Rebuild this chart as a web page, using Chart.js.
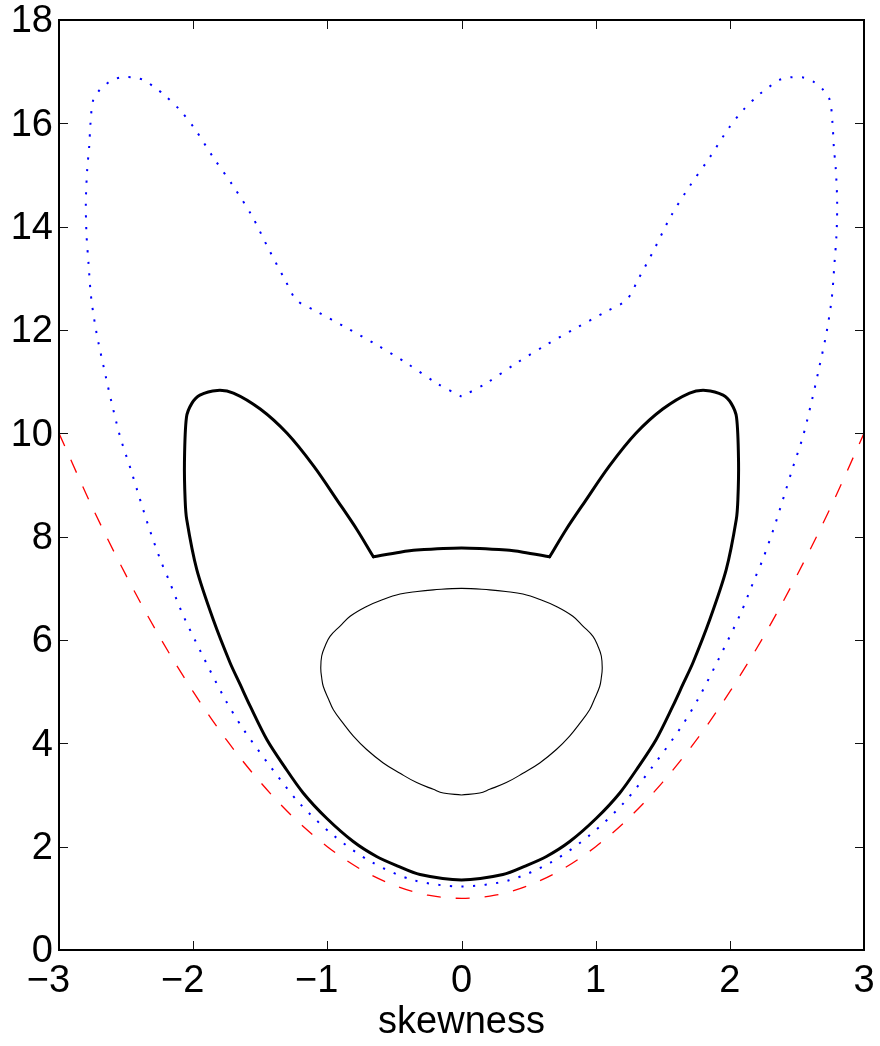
<!DOCTYPE html>
<html>
<head>
<meta charset="utf-8">
<script src="https://cdn.jsdelivr.net/npm/chart.js@4.4.1/dist/chart.umd.min.js"></script>
<style>
  body { margin: 0; background: #fff; }
  #wrap { width: 880px; height: 1046px; }
</style>
</head>
<body>
<div id="wrap"><canvas id="chart"></canvas></div>
<script>
const xTicks = [-3, -2, -1, 0, 1, 2, 3];
const yTicks = [0, 2, 4, 6, 8, 10, 12, 14, 16, 18];
const xTitle = "skewness";

// lower bound (red dashed)
const redX = [-3, -2.75, -2.5, -2.25, -2, -1.75, -1.5, -1.25, -1, -0.75, -0.5, -0.25, 0,
  0.25, 0.5, 0.75, 1, 1.25, 1.5, 1.75, 2, 2.25, 2.5, 2.75, 3];
const redY = [10, 8.56, 7.25, 6.06, 5, 4.06, 3.25, 2.56, 2, 1.56, 1.25, 1.06, 1,
  1.06, 1.25, 1.56, 2, 2.56, 3.25, 4.06, 5, 6.06, 7.25, 8.56, 10];

// blue dotted contour, starts and ends at the top notch
const blueX = [0, -0.185, -0.41, -0.63, -0.855, -1.08, -1.23, -1.315, -1.44, -1.56,
  -1.70, -1.85, -1.99, -2.10, -2.22, -2.29, -2.37, -2.45, -2.54, -2.62,
  -2.695, -2.745, -2.765, -2.775, -2.79, -2.80, -2.795, -2.78, -2.76, -2.72,
  -2.665, -2.61, -2.545, -2.465, -2.415, -2.334, -2.247, -2.178, -2.08, -1.928,
  -1.768, -1.633, -1.427, -1.211, -0.955, -0.669, -0.355, 0,
  0.355, 0.669, 0.955, 1.211, 1.427, 1.633, 1.768, 1.928, 2.08, 2.178,
  2.247, 2.334, 2.415, 2.465, 2.545, 2.61, 2.665, 2.72, 2.76, 2.78,
  2.795, 2.80, 2.79, 2.775, 2.765, 2.745, 2.695, 2.62, 2.54, 2.45,
  2.37, 2.29, 2.22, 2.10, 1.99, 1.85, 1.70, 1.56, 1.44, 1.315,
  1.23, 1.08, 0.855, 0.63, 0.41, 0.185, 0];
const blueY = [10.71, 10.97, 11.36, 11.71, 12.04, 12.36, 12.58, 12.97, 13.58, 14.20,
  14.78, 15.34, 15.90, 16.26, 16.56, 16.70, 16.84, 16.89, 16.89, 16.81,
  16.65, 16.45, 16.01, 15.55, 15.10, 14.46, 13.85, 13.29, 12.62, 11.94,
  11.26, 10.62, 9.94, 9.30, 8.88, 8.21, 7.57, 7.14, 6.51, 5.69,
  4.88, 4.30, 3.56, 2.85, 2.22, 1.70, 1.35, 1.23,
  1.35, 1.70, 2.22, 2.85, 3.56, 4.30, 4.88, 5.69, 6.51, 7.14,
  7.57, 8.21, 8.88, 9.30, 9.94, 10.62, 11.26, 11.94, 12.62, 13.29,
  13.85, 14.46, 15.10, 15.55, 16.01, 16.45, 16.65, 16.81, 16.89, 16.89,
  16.84, 16.70, 16.56, 16.26, 15.90, 15.34, 14.78, 14.20, 13.58, 12.97,
  12.58, 12.36, 12.04, 11.71, 11.36, 10.97, 10.71];

// thin inner contour, starts and ends at the bottom cusp
const innerX = [0, -0.136, -0.21, -0.334, -0.458, -0.583, -0.707, -0.806, -0.88, -0.955,
  -0.99, -1.03, -1.042, -1.049, -1.042, -1.017, -0.98, -0.905, -0.83, -0.707,
  -0.59, -0.458, -0.33, -0.21, 0,
  0.21, 0.33, 0.458, 0.59, 0.707, 0.83, 0.905, 0.98, 1.017, 1.042,
  1.049, 1.042, 1.03, 0.99, 0.955, 0.88, 0.806, 0.707, 0.583, 0.458,
  0.334, 0.21, 0.136, 0];
const innerY = [3.00, 3.04, 3.11, 3.24, 3.42, 3.62, 3.88, 4.14, 4.38, 4.65,
  4.85, 5.10, 5.27, 5.46, 5.69, 5.88, 6.07, 6.27, 6.46, 6.65,
  6.78, 6.89, 6.94, 6.97, 7.00,
  6.97, 6.94, 6.89, 6.78, 6.65, 6.46, 6.27, 6.07, 5.88, 5.69,
  5.46, 5.27, 5.10, 4.85, 4.65, 4.38, 4.14, 3.88, 3.62, 3.42,
  3.24, 3.11, 3.04, 3.00];

// thick contour: outer part from left corner round to right corner
const outerX = [-0.657, -0.78, -0.92, -1.10, -1.30, -1.50, -1.70, -1.82, -1.95, -2.01,
  -2.05, -2.065, -2.06, -2.048, -1.973, -1.85, -1.725, -1.65, -1.575, -1.45,
  -1.32, -1.18, -1.005, -0.807, -0.633, -0.48, -0.309, 0,
  0.309, 0.48, 0.633, 0.807, 1.005, 1.18, 1.32, 1.45, 1.575, 1.65, 1.725,
  1.85, 1.973, 2.048, 2.06, 2.065, 2.05, 2.01, 1.95, 1.82, 1.70,
  1.50, 1.30, 1.10, 0.92, 0.78, 0.657];
const outerY = [7.61, 8.14, 8.68, 9.36, 10.00, 10.47, 10.78, 10.83, 10.74, 10.58,
  10.31, 9.43, 8.72, 8.33, 7.36, 6.39, 5.56, 5.14, 4.72, 4.07,
  3.55, 3.04, 2.55, 2.10, 1.81, 1.63, 1.46, 1.355,
  1.46, 1.63, 1.81, 2.10, 2.55, 3.04, 3.55, 4.07, 4.72, 5.14, 5.56,
  6.39, 7.36, 8.33, 8.72, 9.43, 10.31, 10.58, 10.74, 10.83, 10.78,
  10.47, 10.00, 9.36, 8.68, 8.14, 7.61];
// thick contour: top arc between the two corners
const arcX = [-0.657, -0.458, -0.334, 0, 0.334, 0.458, 0.657];
const arcY = [7.61, 7.70, 7.74, 7.78, 7.74, 7.70, 7.61];

const pts = (xs, ys) => xs.map((x, i) => ({ x, y: ys[i] }));
const fmt = (v) => (v < 0 ? "\u2212" + Math.abs(v) + "\u2007" : String(v));

const FONT = { family: "'Liberation Sans', Arial, Helvetica, sans-serif", size: 38 };

// matlab style box with inward ticks on all four sides
const frame = {
  id: "frame",
  afterDatasetsDraw(chart) {
    const { ctx, chartArea: a, scales } = chart;
    const len = 9;
    ctx.save();
    ctx.strokeStyle = "#111";
    ctx.lineWidth = 1;
    ctx.beginPath();
    xTicks.forEach((v) => {
      const px = Math.round(scales.x.getPixelForValue(v)) + 0.5;
      ctx.moveTo(px, a.bottom);
      ctx.lineTo(px, a.bottom - len);
      ctx.moveTo(px, a.top);
      ctx.lineTo(px, a.top + len);
    });
    yTicks.forEach((v) => {
      const py = Math.round(scales.y.getPixelForValue(v)) + 0.5;
      ctx.moveTo(a.left, py);
      ctx.lineTo(a.left + len, py);
      ctx.moveTo(a.right, py);
      ctx.lineTo(a.right - len, py);
    });
    ctx.stroke();
    ctx.lineWidth = 2;
    ctx.strokeStyle = "#000";
    ctx.strokeRect(a.left, a.top, a.right - a.left, a.bottom - a.top);
    ctx.restore();
  },
};

const ctx = document.getElementById("chart").getContext("2d");
// eslint-disable-next-line no-new
new Chart(ctx, {
  type: "scatter",
  data: {
    datasets: [
      {
        data: pts(redX, redY),
        showLine: true,
        borderColor: "#ff0000",
        borderWidth: 1.3,
        borderDash: [14, 15],
        cubicInterpolationMode: "monotone",
        pointRadius: 0,
      },
      {
        data: pts(blueX, blueY),
        showLine: true,
        borderColor: "#0000ff",
        borderWidth: 2,
        borderDash: [2.2, 9.4],
        tension: 0.3,
        pointRadius: 0,
      },
      {
        data: pts(innerX, innerY),
        showLine: true,
        borderColor: "#000",
        borderWidth: 1.1,
        tension: 0.4,
        pointRadius: 0,
      },
      {
        data: pts(outerX, outerY),
        showLine: true,
        borderColor: "#000",
        borderWidth: 3,
        borderCapStyle: "round",
        tension: 0.3,
        pointRadius: 0,
      },
      {
        data: pts(arcX, arcY),
        showLine: true,
        borderColor: "#000",
        borderWidth: 3,
        borderCapStyle: "round",
        tension: 0.3,
        pointRadius: 0,
      },
    ],
  },
  options: {
    responsive: true,
    maintainAspectRatio: false,
    animation: false,
    events: [],
    layout: { padding: { left: 0, top: 20, right: 16, bottom: 0 } },
    plugins: { legend: { display: false }, tooltip: { enabled: false } },
    scales: {
      x: {
        type: "linear",
        min: -3,
        max: 3,
        afterBuildTicks: (s) => { s.ticks = xTicks.map((v) => ({ value: v })); },
        afterFit: (s) => { s.height = 96; s.paddingLeft = 0; s.paddingRight = 0; },
        grid: { display: false, drawTicks: false },
        border: { display: false },
        ticks: { color: "#000", font: FONT, padding: 9, maxRotation: 0, callback: fmt },
        title: { display: true, text: xTitle, color: "#000", font: FONT, padding: { top: 0, bottom: 1 } },
      },
      y: {
        type: "linear",
        min: 0,
        max: 18,
        afterBuildTicks: (s) => { s.ticks = yTicks.map((v) => ({ value: v })); },
        afterFit: (s) => { s.width = 59; s.paddingTop = 0; s.paddingBottom = 0; },
        grid: { display: false, drawTicks: false },
        border: { display: false },
        ticks: { color: "#000", font: FONT, padding: 6, labelOffset: 2, callback: fmt },
      },
    },
  },
  plugins: [frame],
});
</script>
</body>
</html>
